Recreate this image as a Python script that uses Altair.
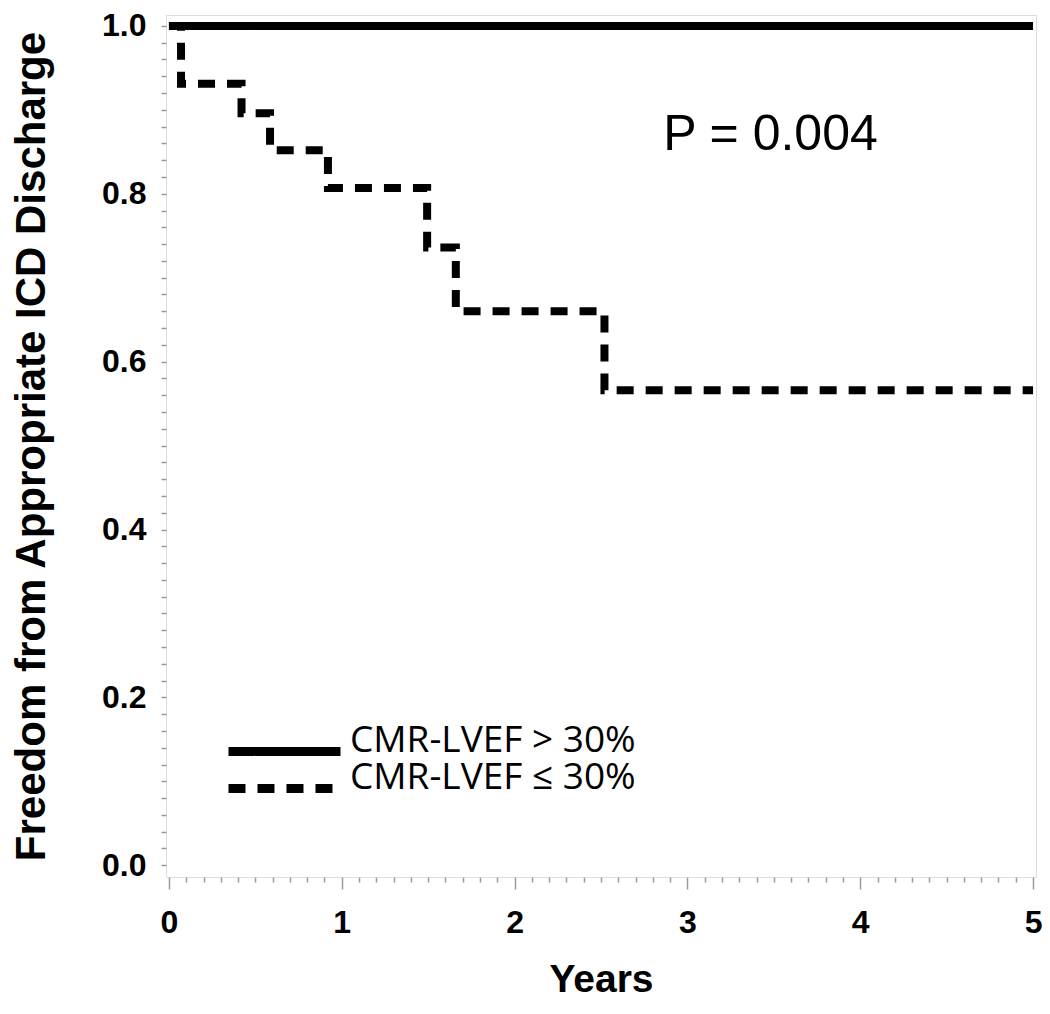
import altair as alt
import pandas as pd

# Kaplan-Meier curves
group_high = "CMR-LVEF > 30%"
group_low = "CMR-LVEF \u2264 30%"

years_high = [0.0, 5.0]
surv_high = [1.0, 1.0]

years_low = [0.0, 0.07, 0.42, 0.585, 0.92, 1.494, 1.66, 2.52, 5.0]
surv_low = [1.0, 0.931, 0.896, 0.852, 0.807, 0.736, 0.660, 0.566, 0.566]

# axis ticks
x_major = [0, 1, 2, 3, 4, 5]
y_major = [0.0, 0.2, 0.4, 0.6, 0.8, 1.0]
x_ticks = [round(i * 0.1, 2) for i in range(51)]
y_ticks = [round(i * 0.02, 2) for i in range(51)]

p_text = ["P = 0.004"]
p_year = [2.86]
p_surv = [0.870]

df = pd.DataFrame(
    {
        "t": years_high + years_low,
        "s": surv_high + surv_low,
        "group": [group_high] * len(years_high) + [group_low] * len(years_low),
    }
)
df_p = pd.DataFrame({"t": p_year, "s": p_surv, "label": p_text})

x_scale = alt.Scale(domain=[-0.017, 5.017], nice=False, zero=False)
y_scale = alt.Scale(domain=[-0.014, 1.013], nice=False, zero=False)

x_axis = alt.Axis(
    title="Years",
    values=x_ticks,
    tickCount=200,
    labelExpr="abs(datum.value - round(datum.value)) < 0.001 ? format(datum.value, 'd') : ''",
    labelOverlap=False,
    labelFlush=False,
    tickSize={"condition": {"test": "abs(datum.value - round(datum.value)) < 0.001", "value": 12}, "value": 5},
    tickColor="#9a9a9a",
    tickWidth=1.5,
    domain=False,
    grid=False,
    labelFont="Liberation Sans",
    labelFontWeight="bold",
    labelFontSize=32,
    labelColor="black",
    labelPadding=18,
    titleFont="Liberation Sans",
    titleFontWeight="bold",
    titleFontSize=39,
    titleColor="black",
    titlePadding=22,
)
y_axis = alt.Axis(
    title="Freedom from Appropriate ICD Discharge",
    values=y_ticks,
    tickCount=200,
    labelExpr="abs(datum.value * 5 - round(datum.value * 5)) < 0.001 ? format(datum.value, '.1f') : ''",
    labelOverlap=False,
    labelFlush=False,
    tickSize=5,
    tickColor="#9a9a9a",
    tickWidth=1.5,
    domain=False,
    grid=False,
    labelFont="Liberation Sans",
    labelFontWeight="bold",
    labelFontSize=32,
    labelColor="black",
    labelPadding=15,
    titleFont="Liberation Sans",
    titleFontWeight="bold",
    titleFontSize=42,
    titleColor="black",
    titlePadding=48,
)

lines = (
    alt.Chart(df)
    .mark_line(interpolate="step-after", color="black", strokeWidth=8)
    .encode(
        x=alt.X("t:Q", scale=x_scale, axis=x_axis),
        y=alt.Y("s:Q", scale=y_scale, axis=y_axis),
        strokeDash=alt.StrokeDash(
            "group:N",
            scale=alt.Scale(domain=[group_high, group_low], range=[[1, 0], [17, 12]]),
            legend=alt.Legend(
                title=None,
                orient="none",
                legendX=100,
                legendY=718,
                symbolType="M-5,0H5",
                symbolSize=502,
                symbolStrokeWidth=9,
                symbolStrokeColor="black",
                labelFont="Open Sans",
                labelFontSize=37,
                labelColor="black",
                labelBaseline="alphabetic",
                labelOffset=47,
                labelLimit=600,
                rowPadding=-17,
                padding=0,
            ),
        ),
    )
)

ptext = (
    alt.Chart(df_p)
    .mark_text(font="Liberation Sans", fontSize=50, align="left", baseline="middle", color="black")
    .encode(x="t:Q", y="s:Q", text="label:N")
)

chart = (
    alt.layer(lines, ptext)
    .properties(
        width=870,
        height=862,
        autosize=alt.AutoSizeParams(type="none"),
        padding={"left": 158, "top": 7, "right": 6, "bottom": 121},
    )
    .configure_view(stroke="#a8a8a8", strokeWidth=1.5)
    .configure(background="white")
)

chart.save("out.html", embed_options={"renderer": "svg", "actions": False})
